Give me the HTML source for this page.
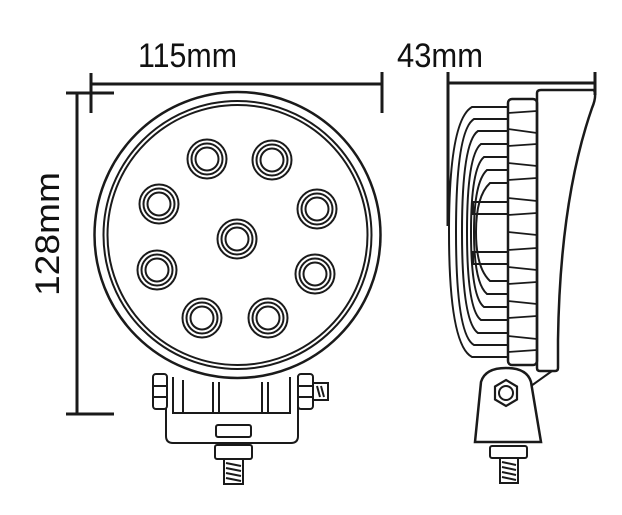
<!DOCTYPE html>
<html><head><style>body{margin:0;background:#fff}svg{display:block}</style></head>
<body>
<svg width="622" height="515" viewBox="0 0 622 515" xmlns="http://www.w3.org/2000/svg" fill="none" stroke="#1a1a1a" stroke-width="2">
<g font-family="Liberation Sans, sans-serif" font-size="34" fill="#111" stroke="none">
<text x="138" y="67" textLength="99" lengthAdjust="spacingAndGlyphs">115mm</text>
<text x="397" y="67" textLength="86" lengthAdjust="spacingAndGlyphs">43mm</text>
<text transform="translate(59,296) rotate(-90)" textLength="124" lengthAdjust="spacingAndGlyphs">128mm</text>
</g>
<g stroke-width="3">
<line x1="91" y1="84" x2="382" y2="84"/><line x1="91" y1="73" x2="91" y2="113"/><line x1="382" y1="72" x2="382" y2="113"/>
<line x1="77" y1="93" x2="77" y2="414"/><line x1="66" y1="93" x2="114" y2="93"/><line x1="66" y1="414" x2="114" y2="414"/>
<line x1="448" y1="83" x2="595" y2="83"/><line x1="448" y1="72" x2="448" y2="226"/><line x1="595" y1="72" x2="595" y2="95"/>
</g>
<circle cx="237.5" cy="235" r="143" stroke-width="2.5"/>
<circle cx="237.5" cy="235" r="134"/>
<circle cx="237.5" cy="235" r="130"/>
<g stroke-width="2">
<circle cx="207" cy="159" r="19.5"/><circle cx="207" cy="159" r="15.5"/><circle cx="207" cy="159" r="11.5"/>
<circle cx="272" cy="160" r="19.5"/><circle cx="272" cy="160" r="15.5"/><circle cx="272" cy="160" r="11.5"/>
<circle cx="159" cy="204" r="19.5"/><circle cx="159" cy="204" r="15.5"/><circle cx="159" cy="204" r="11.5"/>
<circle cx="317" cy="209" r="19.5"/><circle cx="317" cy="209" r="15.5"/><circle cx="317" cy="209" r="11.5"/>
<circle cx="237" cy="239" r="19.5"/><circle cx="237" cy="239" r="15.5"/><circle cx="237" cy="239" r="11.5"/>
<circle cx="157" cy="270" r="19.5"/><circle cx="157" cy="270" r="15.5"/><circle cx="157" cy="270" r="11.5"/>
<circle cx="315" cy="274" r="19.5"/><circle cx="315" cy="274" r="15.5"/><circle cx="315" cy="274" r="11.5"/>
<circle cx="202" cy="318" r="19.5"/><circle cx="202" cy="318" r="15.5"/><circle cx="202" cy="318" r="11.5"/>
<circle cx="268" cy="318" r="19.5"/><circle cx="268" cy="318" r="15.5"/><circle cx="268" cy="318" r="11.5"/>
</g>
<path d="M166 376 V436 Q166 443 173 443 H291 Q298 443 298 436 V376"/>
<path d="M173 377 V413 H290 V377"/>
<line x1="183" y1="380" x2="183" y2="413"/><line x1="213" y1="382" x2="213" y2="413"/><line x1="219" y1="382" x2="219" y2="413"/>
<line x1="262" y1="382" x2="262" y2="413"/><line x1="268" y1="382" x2="268" y2="413"/>
<rect x="153" y="374" width="14" height="35" rx="3" fill="#fff"/><line x1="153" y1="386" x2="167" y2="386"/><line x1="153" y1="397" x2="167" y2="397"/>
<rect x="298" y="374" width="15" height="35" rx="3" fill="#fff"/><line x1="298" y1="386" x2="313" y2="386"/><line x1="298" y1="397" x2="313" y2="397"/>
<rect x="313" y="383" width="15" height="17"/><path d="M317 386 l3 11 M321 386 l3 11"/>
<rect x="216" y="425" width="35" height="12" rx="2" fill="#fff"/>
<rect x="215" y="445" width="37" height="14" rx="2" fill="#fff"/>
<rect x="224" y="459" width="19" height="25" fill="#fff"/>
<path d="M226 463 l15 3 M226 468 l15 3 M226 473 l15 3 M226 478 l15 3"/>
<path d="M537 93 Q537 90 541 90 H594 Q597 96 592 108 Q560 200 558 340 V368 Q558 371 555 371 H540 Q537 371 537 368 Z" stroke-width="2.5"/>
<rect x="508" y="99" width="29" height="266" rx="4" stroke-width="2.5"/>
<g stroke-width="1.8">
<path d="M508 113 L537 111 M508 129 L537 133 M508 146 L537 144 M508 163 L537 166 M508 180 L537 178 M508 198 L537 201 M508 215 L537 213 M508 232 L537 235 M508 250 L537 248 M508 267 L537 270 M508 284 L537 282 M508 301 L537 304 M508 318 L537 316 M508 336 L537 339 M508 352 L537 350"/>
</g>
<g stroke-width="2">
<path d="M508 107 H472 Q449 120 449 232 Q449 345 472 357 H508"/>
<path d="M508 119 H474 Q456 130 456 232 Q456 335 474 345 H508"/>
<path d="M508 131 H478 Q462 142 462 232 Q462 322 478 333 H508"/>
<path d="M508 144 H481 Q467 155 467 232 Q467 310 481 320 H508"/>
<path d="M508 157 H484 Q471 168 471 232 Q471 297 484 307 H508"/>
<path d="M508 170 H487 Q474 182 474 232 Q474 283 487 294 H508"/>
<path d="M508 183 H490 Q476 196 476 232 Q476 268 490 281 H508"/>
<rect x="473" y="202" width="35" height="12"/>
<rect x="473" y="252" width="35" height="12"/>
</g>
<path d="M475 442 L481 382 Q485 368 506 368 Q527 368 531 382 L541 442 Z" fill="#fff" stroke-width="2.5"/>
<path d="M531 386 L552 371" stroke-width="2"/>
<polygon points="506,380 517,386.5 517,399.5 506,406 495,399.5 495,386.5" stroke-width="2.2"/>
<circle cx="506" cy="393" r="7"/>
<rect x="490" y="446" width="37" height="12" rx="2" fill="#fff"/>
<rect x="500" y="458" width="18" height="25" fill="#fff"/>
<path d="M502 462 l14 3 M502 467 l14 3 M502 472 l14 3 M502 477 l14 3"/>
</svg>
</body></html>
